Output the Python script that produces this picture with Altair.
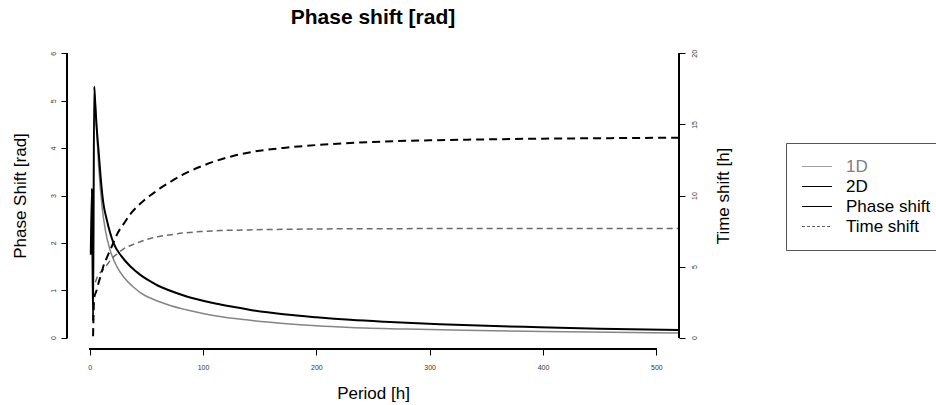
import altair as alt
import pandas as pd

FONT = "Liberation Sans"

# ---- data ----
# 2D phase shift [rad] (black solid)
p_2d_phase = [1, 2, 3, 4, 5, 6, 8, 10, 12, 15, 21, 28, 36, 45, 54, 60, 70, 83, 100, 112,
              125, 142, 171, 200, 230, 260, 309, 350, 397, 450, 520]
v_2d_phase = [1.75, 3.15, 0.35, 5.3, 4.9, 4.5, 3.9, 3.3, 2.85, 2.5, 2.0, 1.72, 1.5, 1.32, 1.18,
              1.1, 1.0, 0.89, 0.78, 0.715, 0.655, 0.585, 0.495, 0.43, 0.375, 0.335, 0.285, 0.25,
              0.22, 0.19, 0.16]
# 1D phase shift [rad] (grey solid)
p_1d_phase = [5, 6.5, 8, 11, 14, 18, 24, 30, 38, 48, 54, 71, 85, 100, 112, 140, 171, 200, 230,
              280, 330, 400, 460, 520]
v_1d_phase = [4.95, 4.25, 3.6, 2.75, 2.25, 1.85, 1.5, 1.28, 1.08, 0.9, 0.83, 0.68, 0.59, 0.51,
              0.455, 0.37, 0.3, 0.25, 0.215, 0.18, 0.155, 0.13, 0.113, 0.1]
# 2D time shift [h] (black dashed)
p_2d_time = [3, 4, 6, 8, 10, 12, 15, 20, 25, 30, 36, 43, 50, 56, 62, 70, 83, 100, 112, 125,
             142, 171, 200, 230, 260, 300, 350, 400, 450, 520]
v_2d_time = [0.1, 2.8, 3.3, 3.9, 4.4, 5.0, 5.6, 6.5, 7.4, 8.0, 8.7, 9.3, 9.8, 10.15, 10.5, 10.9,
             11.5, 12.1, 12.45, 12.75, 13.05, 13.35, 13.55, 13.7, 13.8, 13.88, 13.95, 14.0, 14.03,
             14.07]
# 1D time shift [h] (grey dashed)
p_1d_time = [5, 7, 9, 12, 15, 20, 25, 30, 40, 50, 60, 70, 85, 100, 115, 140, 170, 230, 300, 400, 520]
v_1d_time = [3.9, 4.3, 4.55, 4.8, 5.1, 5.6, 5.95, 6.25, 6.6, 6.9, 7.1, 7.22, 7.38, 7.47, 7.53,
             7.58, 7.62, 7.66, 7.67, 7.67, 7.67]

x_ticks = [0, 100, 200, 300, 400, 500]
phase_ticks = [0, 1, 2, 3, 4, 5, 6]
time_ticks = [0, 5, 10, 15, 20]
legend_keys = ["1D", "2D", "Phase shift", "Time shift"]
legend_colors = ["#a0a0a0", "#000000", "#000000", "#606060"]
legend_dashes = [[1, 0], [1, 0], [1, 0], [3, 2]]

W, H = 612, 307

df_2dp = pd.DataFrame({"period": p_2d_phase, "value": v_2d_phase})
df_1dp = pd.DataFrame({"period": p_1d_phase, "value": v_1d_phase})
df_2dt = pd.DataFrame({"period": p_2d_time, "value": v_2d_time})
df_1dt = pd.DataFrame({"period": p_1d_time, "value": v_1d_time})
df_leg = pd.DataFrame({"key": legend_keys, "period": [None] * 4, "value": [None] * 4})

x_scale = alt.Scale(domain=[-20, 520], nice=False, zero=False)
phase_scale = alt.Scale(domain=[-0.24, 6.24], nice=False, zero=False)
time_scale = alt.Scale(domain=[-0.8, 20.8], nice=False, zero=False)

x_axis = alt.Axis(values=x_ticks, domain=False, grid=False, tickSize=6, tickColor="black",
                  labelFontSize=7, labelFont=FONT, labelColor="#333333", labelPadding=8,
                  title="Period [h]", titleFont=FONT, titleFontSize=17, titleFontWeight="normal",
                  titleColor="black", titleY=44, titleBaseline="middle")
left_axis = alt.Axis(orient="left", values=phase_ticks, domain=False, grid=False, tickSize=6,
                     tickColor="black", labelFontSize=7, labelFont=FONT, labelColor="#333333",
                     labelAngle=270, labelAlign="center", labelBaseline="bottom", labelPadding=5,
                     title="Phase Shift [rad]", titleFont=FONT, titleFontSize=17,
                     titleFontWeight="normal", titleColor="black", titleX=-47, titleY=H / 2,
                     titleAngle=270, titleAlign="center", titleBaseline="middle")
right_axis = alt.Axis(orient="right", values=time_ticks, domain=False, grid=False, tickSize=6,
                      tickColor="black", labelFontSize=7, labelFont=FONT, labelColor="#333333",
                      labelAngle=270, labelAlign="center", labelBaseline="top", labelPadding=5,
                      title="Time shift [h]", titleFont=FONT, titleFontSize=17,
                      titleFontWeight="normal", titleColor="black", titleX=44.5, titleY=H / 2,
                      titleAngle=270, titleAlign="center", titleBaseline="middle")

X = alt.X("period:Q", scale=x_scale, axis=x_axis)
Yp = alt.Y("value:Q", scale=phase_scale, axis=left_axis)
Yt = alt.Y("value:Q", scale=time_scale, axis=right_axis)

grey_phase = alt.Chart(df_1dp).mark_line(color="#858585", strokeWidth=1.5,
                                         interpolate="monotone").encode(x=X, y=Yp)
black_phase = alt.Chart(df_2dp).mark_line(color="#000000", strokeWidth=2,
                                          interpolate="monotone").encode(x=X, y=Yp)

legend = alt.Legend(orient="none", legendX=719, legendY=101, title=None, symbolType="stroke",
                    symbolSize=900, symbolStrokeWidth=1.2, clipHeight=17, rowPadding=2,
                    labelOffset=13, labelFontSize=17, labelFont=FONT, labelLimit=300,
                    labelColor={"expr": "datum.label == '1D' ? '#808080' : '#000000'"},
                    padding=15, strokeColor="#555555", fillColor="white", labelBaseline="middle")
legend_layer = alt.Chart(df_leg).mark_line(strokeWidth=1.2).encode(
    x=X, y=Yp,
    color=alt.Color("key:N", scale=alt.Scale(domain=legend_keys, range=legend_colors), legend=legend),
    strokeDash=alt.StrokeDash("key:N", scale=alt.Scale(domain=legend_keys, range=legend_dashes),
                              legend=legend),
)

left_line = alt.Chart(df_2dp).mark_rule(color="black", strokeWidth=1).encode(
    x=alt.value(0),
    y=alt.Y(datum=phase_ticks[0], scale=phase_scale, axis=left_axis),
    y2=alt.Y2(datum=phase_ticks[-1]),
)
bottom_line = alt.Chart(df_2dp).mark_rule(color="black", strokeWidth=1).encode(
    y=alt.value(H),
    x=alt.X(datum=x_ticks[0], scale=x_scale, axis=x_axis),
    x2=alt.X2(datum=x_ticks[-1]),
)

phase_group = alt.layer(grey_phase, black_phase, legend_layer, left_line, bottom_line)

grey_time = alt.Chart(df_1dt).mark_line(color="#6a6a6a", strokeWidth=1.5, strokeDash=[6, 4],
                                        interpolate="monotone").encode(x=X, y=Yt)
black_time = alt.Chart(df_2dt).mark_line(color="#000000", strokeWidth=2, strokeDash=[8, 5],
                                         interpolate="monotone").encode(x=X, y=Yt)
right_line = alt.Chart(df_2dt).mark_rule(color="black", strokeWidth=1).encode(
    x=alt.value(W),
    y=alt.Y(datum=time_ticks[0], scale=time_scale, axis=right_axis),
    y2=alt.Y2(datum=time_ticks[-1]),
)
time_group = alt.layer(grey_time, black_time, right_line)

chart = alt.layer(phase_group, time_group).resolve_scale(y="independent").properties(
    width=W, height=H,
    autosize=alt.AutoSizeParams(type="none"),
    padding={"left": 67, "top": 42, "right": 257, "bottom": 56},
    title=alt.Title("Phase shift [rad]", font=FONT, fontSize=21, fontWeight="bold",
                    color="black", anchor="middle", frame="group", offset=14),
    background="white",
).configure_view(stroke=None).configure_axis(grid=False)

chart.save("out.html", embed_options={"renderer": "svg", "actions": False})
